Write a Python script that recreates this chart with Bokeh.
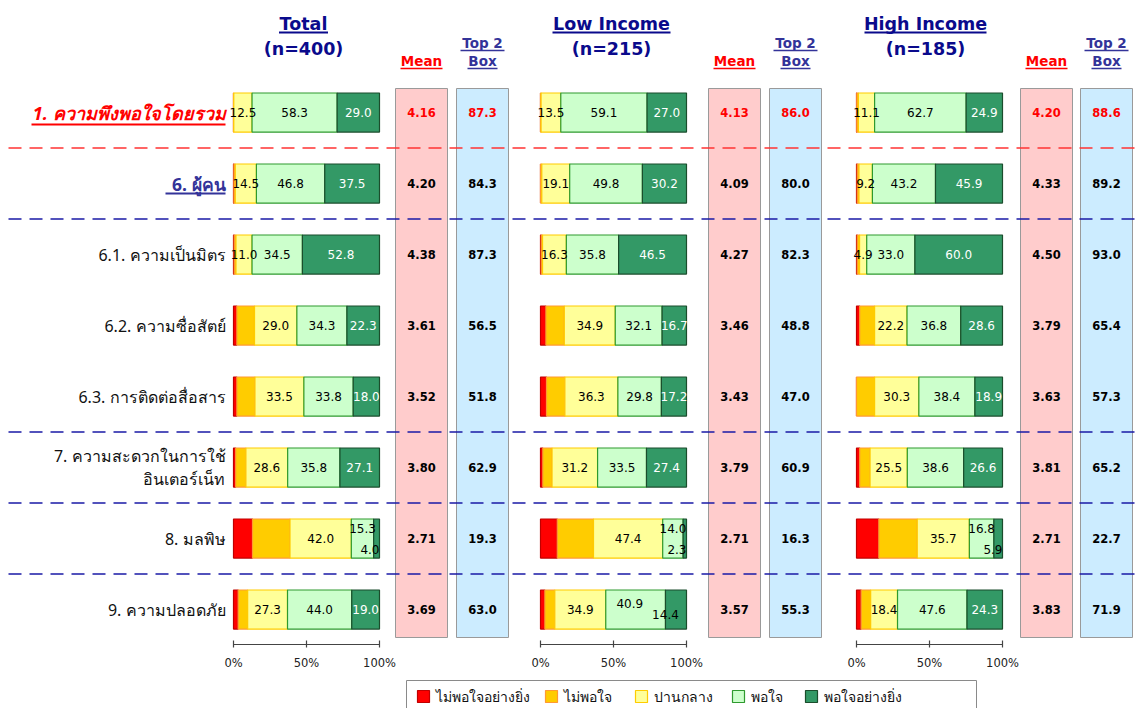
import numpy as np
from bokeh.plotting import figure
from bokeh.models import Range1d, ColumnDataSource
from bokeh.core.properties import value
from bokeh.embed import file_html
from bokeh.resources import INLINE

# ---------------- data ----------------
row_labels = ["1. ความพึงพอใจโดยรวม", "6. ผู้คน", "6.1. ความเป็นมิตร", "6.2. ความซื่อสัตย์",
              "6.3. การติดต่อสื่อสาร", "7. ความสะดวกในการใช้\nอินเตอร์เน็ท", "8. มลพิษ", "9. ความปลอดภัย"]
categories = ["ไม่พอใจอย่างยิ่ง", "ไม่พอใจ", "ปานกลาง", "พอใจ", "พอใจอย่างยิ่ง"]
panel_names = ["Total", "Low Income", "High Income"]
panel_n = ["(n=400)", "(n=215)", "(n=185)"]
tick_values = [0, 50, 100]
tick_labels = ["0%", "50%", "100%"]

total_very_dis = [0.0, 0.3, 0.5, 2.3, 2.3, 1.5, 13.0, 3.2]
total_dis = [0.2, 0.9, 1.2, 12.1, 12.4, 7.0, 25.7, 6.5]
total_neutral = [12.5, 14.5, 11.0, 29.0, 33.5, 28.6, 42.0, 27.3]
total_sat = [58.3, 46.8, 34.5, 34.3, 33.8, 35.8, 15.3, 44.0]
total_very_sat = [29.0, 37.5, 52.8, 22.3, 18.0, 27.1, 4.0, 19.0]
total_mean = [4.16, 4.20, 4.38, 3.61, 3.52, 3.80, 2.71, 3.69]
total_top2 = [87.3, 84.3, 87.3, 56.5, 51.8, 62.9, 19.3, 63.0]

low_very_dis = [0.0, 0.0, 0.5, 3.7, 4.1, 1.6, 11.5, 3.0]
low_dis = [0.4, 0.9, 0.9, 12.6, 12.6, 6.3, 24.8, 6.8]
low_neutral = [13.5, 19.1, 16.3, 34.9, 36.3, 31.2, 47.4, 34.9]
low_sat = [59.1, 49.8, 35.8, 32.1, 29.8, 33.5, 14.0, 40.9]
low_very_sat = [27.0, 30.2, 46.5, 16.7, 17.2, 27.4, 2.3, 14.4]
low_mean = [4.13, 4.09, 4.27, 3.46, 3.43, 3.79, 2.71, 3.57]
low_top2 = [86.0, 80.0, 82.3, 48.8, 47.0, 60.9, 16.3, 55.3]

high_very_dis = [0.2, 0.5, 0.5, 2.2, 0.0, 2.2, 15.3, 3.2]
high_dis = [1.1, 1.2, 1.6, 10.2, 12.4, 7.1, 26.3, 6.5]
high_neutral = [11.1, 9.2, 4.9, 22.2, 30.3, 25.5, 35.7, 18.4]
high_sat = [62.7, 43.2, 33.0, 36.8, 38.4, 38.6, 16.8, 47.6]
high_very_sat = [24.9, 45.9, 60.0, 28.6, 18.9, 26.6, 5.9, 24.3]
high_mean = [4.20, 4.33, 4.50, 3.79, 3.63, 3.81, 2.71, 3.83]
high_top2 = [88.6, 89.2, 93.0, 65.4, 57.3, 65.2, 22.7, 71.9]

panel_segments = [
    [total_very_dis, total_dis, total_neutral, total_sat, total_very_sat],
    [low_very_dis, low_dis, low_neutral, low_sat, low_very_sat],
    [high_very_dis, high_dis, high_neutral, high_sat, high_very_sat],
]
panel_means = [total_mean, low_mean, high_mean]
panel_top2 = [total_top2, low_top2, high_top2]

# ---------------- styles / layout ----------------
seg_fill = ["#FF0000", "#FFCC00", "#FFFF99", "#CCFFCC", "#339966"]
seg_line = ["#C00000", "#FF9933", "#FFCC00", "#2E9A2E", "#1B4D2C"]
seg_text = [None, None, "#000000", "#000000", "#FFFFFF"]

NUM_FONT = value("Tahoma, DejaVu Sans, sans-serif")
THAI_FONT = value("Tahoma, Noto Sans, DejaVu Sans, sans-serif")
NAVY = "#0A0A8C"
BLUE2 = "#333399"

W, H = 1137, 708
OX, OY = 0, 0
ROW0, ROWSTEP = 112 - OY, 71
BAR_H = 0.55
bar_left = [233, 540, 856]
BAR_PX = 146
mean_x = [421, 734, 1046]
top2_x = [482, 795, 1106]
head_x = [303, 611, 925]
head_ul = [49, 118, 122]
BOX_W = 52

p = figure(width=W, height=H, x_range=Range1d(0, W), y_range=Range1d(H, 0),
           x_axis_type=None, y_axis_type=None, output_backend="svg",
           toolbar_location=None, min_border=0, outline_line_color=None)
p.grid.visible = False
p.extra_y_ranges = {"rows": Range1d((H - ROW0) / ROWSTEP, -ROW0 / ROWSTEP)}
for i, name in enumerate(panel_names):
    Lf = bar_left[i] - OX
    p.extra_x_ranges[name] = Range1d(-Lf * 100 / BAR_PX, (W - Lf) * 100 / BAR_PX)

nrows = len(row_labels)
rows = list(range(nrows))

# Mean / Top2 background boxes
for i in range(3):
    p.quad(left=mean_x[i] - BOX_W / 2 - OX, right=mean_x[i] + BOX_W / 2 - OX,
           top=88 - OY, bottom=637 - OY, fill_color="#FFCCCC", line_color="#9A9A9A")
    p.quad(left=top2_x[i] - BOX_W / 2 - OX, right=top2_x[i] + BOX_W / 2 - OX,
           top=88 - OY, bottom=637 - OY, fill_color="#CCECFF", line_color="#9A9A9A")

# separators
sep_after = [0, 1, 4, 5, 6]
for r in sep_after:
    col = "#FF3333" if r == 0 else "#1A1AA6"
    p.segment(x0=8, x1=W, y0=r + 0.5, y1=r + 0.5, y_range_name="rows",
              line_color=col, line_width=1.6, line_dash="13 8")

# stagger config (label placement for crowded bars)
stagger = {0: {6: (-10, 11, "end")}, 1: {6: (-10, 11, "end"), 7: (-6, 5, "left")},
           2: {6: (-10, 11, "end")}}

for i, name in enumerate(panel_names):
    segs = np.array(panel_segments[i])
    cum = np.cumsum(segs, axis=0)
    lefts = cum - segs
    for k in range(5):
        src = ColumnDataSource(dict(y=rows, left=lefts[k], right=cum[k]))
        p.hbar(y="y", left="left", right="right", height=BAR_H, source=src,
               fill_color=seg_fill[k], line_color=seg_line[k], line_width=1.2,
               x_range_name=name, y_range_name="rows")
    for k in (2, 3, 4):
        xs, ys, txt, yo, al, tc = [], [], [], [], [], []
        for r in rows:
            xm = (lefts[k][r] + cum[k][r]) / 2
            dy = 0
            a = "center"
            c = seg_text[k]
            if r in stagger[i]:
                dsat, dvs, mode = stagger[i][r]
                if k == 3:
                    dy = dsat
                    if mode == "left":
                        xm -= 4
                if k == 4:
                    dy = dvs
                    c = "#000000"
                    if mode == "end":
                        xm = cum[k][r]
                        a = "right"
                    elif mode == "left":
                        xm = lefts[k][r]
            xs.append(xm); ys.append(r); txt.append(f"{segs[k][r]:.1f}")
            yo.append(dy); al.append(a); tc.append(c)
        src = ColumnDataSource(dict(x=xs, y=ys, t=txt, yo=yo, al=al, c=tc))
        p.text(x="x", y="y", text="t", y_offset="yo", text_align="al", source=src,
               text_baseline="middle", text_color="c", text_font=NUM_FONT,
               text_font_size="12px", x_range_name=name, y_range_name="rows")
    # mean / top2 values
    cols = ["#FF0000" if r == 0 else "#000000" for r in rows]
    src = ColumnDataSource(dict(y=rows, m=[f"{v:.2f}" for v in panel_means[i]],
                                t=[f"{v:.1f}" for v in panel_top2[i]], c=cols))
    p.text(x=mean_x[i] - OX, y="y", text="m", text_color="c", source=src, y_range_name="rows",
           text_align="center", text_baseline="middle", text_font=NUM_FONT,
           text_font_size="11.5px", text_font_style="bold")
    p.text(x=top2_x[i] - OX, y="y", text="t", text_color="c", source=src, y_range_name="rows",
           text_align="center", text_baseline="middle", text_font=NUM_FONT,
           text_font_size="11.5px", text_font_style="bold")
    # panel axis
    ay = 644 - OY
    p.segment(x0=0, x1=100, y0=ay, y1=ay, x_range_name=name, line_color="#444444", line_width=1.2)
    p.segment(x0=tick_values, x1=tick_values, y0=[ay - 4] * 3, y1=[ay + 3] * 3,
              x_range_name=name, line_color="#444444", line_width=1.2)
    p.text(x=tick_values, y=[662 - OY] * 3, text=tick_labels, x_range_name=name,
           text_align="center", text_baseline="middle", text_font=NUM_FONT,
           text_font_size="11.5px", text_color="#222222")
    # headers
    hx = head_x[i] - OX
    p.text(x=[hx, hx], y=[23 - OY, 48 - OY], text=[name, panel_n[i]], text_align="center",
           text_baseline="middle", text_font=NUM_FONT, text_font_size="17.5px",
           text_font_style="bold", text_color=NAVY)
    hw = head_ul[i] / 2
    p.segment(x0=hx - hw, x1=hx + hw, y0=32 - OY, y1=32 - OY, line_color=NAVY, line_width=2)
    mx = mean_x[i] - OX
    p.text(x=mx, y=60 - OY, text=["Mean"], text_align="center", text_baseline="middle",
           text_font=NUM_FONT, text_font_size="13.5px", text_font_style="bold", text_color="#FF0000")
    p.segment(x0=mx - 21, x1=mx + 21, y0=68 - OY, y1=68 - OY, line_color="#FF0000", line_width=1.6)
    tx = top2_x[i] - OX
    p.text(x=[tx, tx], y=[42 - OY, 60 - OY], text=["Top 2", "Box"], text_align="center",
           text_baseline="middle", text_font=NUM_FONT, text_font_size="13.5px",
           text_font_style="bold", text_color=BLUE2)
    p.segment(x0=[tx - 22, tx - 15], x1=[tx + 22, tx + 15], y0=[50 - OY, 68 - OY],
              y1=[50 - OY, 68 - OY], line_color=BLUE2, line_width=1.6)

# row labels
LX = 225 - OX
p.text(x=LX, y=[0], text=[row_labels[0]], y_range_name="rows", text_align="right",
       text_baseline="middle", text_font=THAI_FONT, text_font_size="18px",
       text_font_style="bold italic", text_color="#FF0000")
p.segment(x0=31 - OX, x1=LX, y0=124 - OY, y1=124 - OY, line_color="#FF0000", line_width=1.8)
p.text(x=LX, y=[1], text=[row_labels[1]], y_range_name="rows", text_align="right",
       text_baseline="middle", text_font=THAI_FONT, text_font_size="17.5px",
       text_font_style="bold", text_color=BLUE2)
p.segment(x0=165 - OX, x1=LX, y0=193 - OY, y1=193 - OY, line_color=BLUE2, line_width=1.8)
p.text(x=LX, y=rows[2:], text=row_labels[2:], y_range_name="rows", text_align="right",
       text_baseline="middle", text_font=THAI_FONT, text_font_size="16px",
       text_color="#111111", text_line_height=1.05)

# legend
lg_left, lg_right, lg_top = 406 - OX, 976 - OX, 680 - OY
p.quad(left=lg_left, right=lg_right, top=lg_top, bottom=H + 5, fill_color="#FFFFFF",
       line_color="#8A8A8A")
sq_x = [417, 545, 635, 732, 805]
ly = 696 - OY
for k, cat in enumerate(categories):
    sx = sq_x[k] - OX
    p.quad(left=sx, right=sx + 12, top=ly - 6, bottom=ly + 6, fill_color=seg_fill[k],
           line_color=seg_line[k], line_width=1.2)
    p.text(x=sx + 18, y=ly, text=[cat], text_align="left", text_baseline="middle",
           text_font=THAI_FONT, text_font_size="14px", text_color="#111111")

open("out.html", "w").write(file_html(p, INLINE))
